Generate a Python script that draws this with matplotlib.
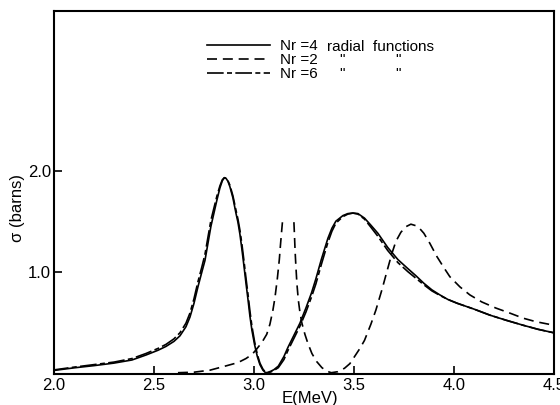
import matplotlib
matplotlib.use('Agg')
import matplotlib.pyplot as plt

plt.rcParams['font.family'] = ['Liberation Sans', 'DejaVu Sans']

# Nr = 4 radial functions (solid)
E4 = [1.99, 2.10, 2.20, 2.30, 2.39, 2.46, 2.52, 2.56, 2.60, 2.63, 2.66, 2.68,
      2.70, 2.72, 2.74, 2.755, 2.77, 2.785, 2.80, 2.815, 2.83, 2.842, 2.852,
      2.86, 2.87, 2.88, 2.895, 2.91, 2.92, 2.93, 2.94, 2.95, 2.96, 2.97, 2.98,
      2.99, 3.003, 3.017, 3.03, 3.045, 3.058, 3.07, 3.085, 3.10, 3.122, 3.15,
      3.17, 3.20, 3.23, 3.26, 3.288, 3.31, 3.337, 3.37, 3.39, 3.41, 3.445,
      3.47, 3.495, 3.52, 3.553, 3.585, 3.62, 3.669, 3.72, 3.77, 3.81, 3.85,
      3.89, 3.93, 3.97, 4.017, 4.10, 4.18, 4.26, 4.346, 4.42, 4.50]
S4 = [0.02, 0.048, 0.07, 0.095, 0.126, 0.175, 0.222, 0.26, 0.31, 0.365, 0.455,
      0.55, 0.685, 0.85, 1.00, 1.11, 1.28, 1.45, 1.58, 1.71, 1.83, 1.90, 1.93,
      1.925, 1.895, 1.84, 1.73, 1.58, 1.49, 1.37, 1.22, 1.06, 0.89, 0.73, 0.56,
      0.42, 0.28, 0.16, 0.08, 0.025, 0.0, 0.003, 0.015, 0.03, 0.065, 0.16,
      0.25, 0.37, 0.49, 0.64, 0.79, 0.93, 1.12, 1.33, 1.43, 1.50, 1.555,
      1.575, 1.58, 1.575, 1.53, 1.46, 1.38, 1.24, 1.12, 1.03, 0.96, 0.885,
      0.82, 0.77, 0.725, 0.687, 0.63, 0.57, 0.52, 0.47, 0.43, 0.395]

# Nr = 2 radial functions (dashed), two branches around the pole
E2a = [2.62, 2.70, 2.78, 2.865, 2.92, 2.96, 2.99, 3.01, 3.04, 3.064, 3.08,
       3.095, 3.105, 3.117, 3.127, 3.133, 3.139, 3.143]
S2a = [0.0, 0.005, 0.025, 0.07, 0.10, 0.14, 0.18, 0.225, 0.30, 0.38, 0.48,
       0.62, 0.74, 0.93, 1.12, 1.27, 1.41, 1.50]
E2b = [3.20, 3.203, 3.206, 3.21, 3.215, 3.222, 3.23, 3.24, 3.255, 3.27, 3.29,
       3.314, 3.34, 3.364, 3.387, 3.42, 3.453, 3.48, 3.50, 3.53, 3.553, 3.585,
       3.61, 3.64, 3.669, 3.69, 3.71, 3.735, 3.76, 3.785, 3.81, 3.83, 3.85,
       3.88, 3.915, 3.95, 3.98, 4.03, 4.08, 4.14, 4.21, 4.28, 4.346, 4.41,
       4.50]
S2b = [1.49, 1.35, 1.20, 1.05, 0.88, 0.72, 0.60, 0.49, 0.38, 0.29, 0.19,
       0.11, 0.05, 0.015, 0.0, 0.01, 0.044, 0.09, 0.15, 0.24, 0.32, 0.48,
       0.62, 0.82, 1.03, 1.18, 1.30, 1.39, 1.445, 1.47, 1.455, 1.425, 1.38,
       1.28, 1.15, 1.04, 0.95, 0.85, 0.77, 0.70, 0.64, 0.59, 0.54, 0.505,
       0.47]

# Nr = 6 radial functions (long dash - short dash)
E6 = [1.99, 2.10, 2.20, 2.30, 2.39, 2.46, 2.52, 2.56, 2.60, 2.63, 2.66, 2.68,
      2.70, 2.72, 2.74, 2.755, 2.77, 2.785, 2.80, 2.815, 2.83, 2.842, 2.852,
      2.86, 2.87, 2.88, 2.895, 2.91, 2.92, 2.93, 2.94, 2.95, 2.96, 2.97, 2.98,
      2.99, 3.003, 3.017, 3.03, 3.045, 3.058, 3.07, 3.085, 3.10, 3.122, 3.15,
      3.17, 3.20, 3.23, 3.26, 3.288, 3.31, 3.337, 3.37, 3.39, 3.41, 3.445,
      3.47, 3.495, 3.52, 3.553, 3.585, 3.62, 3.669, 3.72, 3.77, 3.81, 3.85,
      3.89, 3.93, 3.97, 4.017, 4.10, 4.18, 4.26, 4.346, 4.42, 4.50]
S6 = [0.025, 0.055, 0.08, 0.105, 0.14, 0.19, 0.24, 0.28, 0.335, 0.395, 0.49,
      0.59, 0.73, 0.90, 1.05, 1.17, 1.34, 1.51, 1.63, 1.75, 1.85, 1.91, 1.93,
      1.925, 1.90, 1.855, 1.75, 1.61, 1.52, 1.41, 1.27, 1.11, 0.94, 0.78, 0.61,
      0.46, 0.31, 0.18, 0.095, 0.035, 0.005, 0.0, 0.008, 0.022, 0.05, 0.13,
      0.22, 0.34, 0.46, 0.60, 0.75, 0.88, 1.07, 1.29, 1.40, 1.48, 1.545,
      1.57, 1.58, 1.57, 1.52, 1.44, 1.35, 1.21, 1.09, 1.00, 0.935, 0.87,
      0.81, 0.765, 0.725, 0.687, 0.63, 0.57, 0.52, 0.47, 0.43, 0.395]

XTICKS = [2.0, 2.5, 3.0, 3.5, 4.0, 4.5]
YTICKS = [1.0, 2.0]

fig = plt.figure(figsize=(5.6, 4.05), dpi=100)
ax = fig.add_axes([0.0964, 0.0765, 0.8926, 0.8963])

lw = 1.2
ax.plot(E4, S4, color='black', lw=lw, label='Nr =4')
ax.plot(E2a, S2a, color='black', lw=lw, dashes=(6, 3.5), label='Nr =2')
ax.plot(E2b, S2b, color='black', lw=lw, dashes=(6, 3.5))
ax.plot(E6, S6, color='black', lw=lw, dashes=(10, 2, 3, 2), label='Nr =6')

ax.set_xlim(2.0, 4.5)
ax.set_ylim(-0.013, 3.58)
ax.set_xticks(XTICKS)
ax.set_xticklabels([f'{v:.1f}' for v in XTICKS])
ax.set_yticks(YTICKS)
ax.set_yticklabels([f'{v:.1f}' for v in YTICKS])
ax.tick_params(direction='in', length=6, width=1.2, labelsize=12, pad=3)
ax.tick_params(axis='y', pad=2)
for sp in ax.spines.values():
    sp.set_linewidth(1.5)

ax.set_xlabel('E(MeV)', fontsize=12)
ax.xaxis.set_label_coords(0.512, -0.047)
ax.set_ylabel('σ (barns)', fontsize=12)
ax.yaxis.set_label_coords(-0.058, 0.457)

# Legend: line samples with "Nr =.." labels, rest of the text beside them
ax.legend(loc='upper left', bbox_to_anchor=(0.306, 0.922), frameon=False,
          fontsize=11, handlelength=4.1, handletextpad=0.66,
          labelspacing=0.0, borderpad=0, borderaxespad=0)
ax.text(0.546, 0.8898, 'radial  functions', transform=ax.transAxes,
        fontsize=11, va='baseline', ha='left')
for ty in (0.854, 0.815):
    for tx in (0.576, 0.688):
        ax.text(tx, ty, '"', transform=ax.transAxes, fontsize=11,
                va='baseline', ha='center')

fig.savefig('out.png', dpi=100)
